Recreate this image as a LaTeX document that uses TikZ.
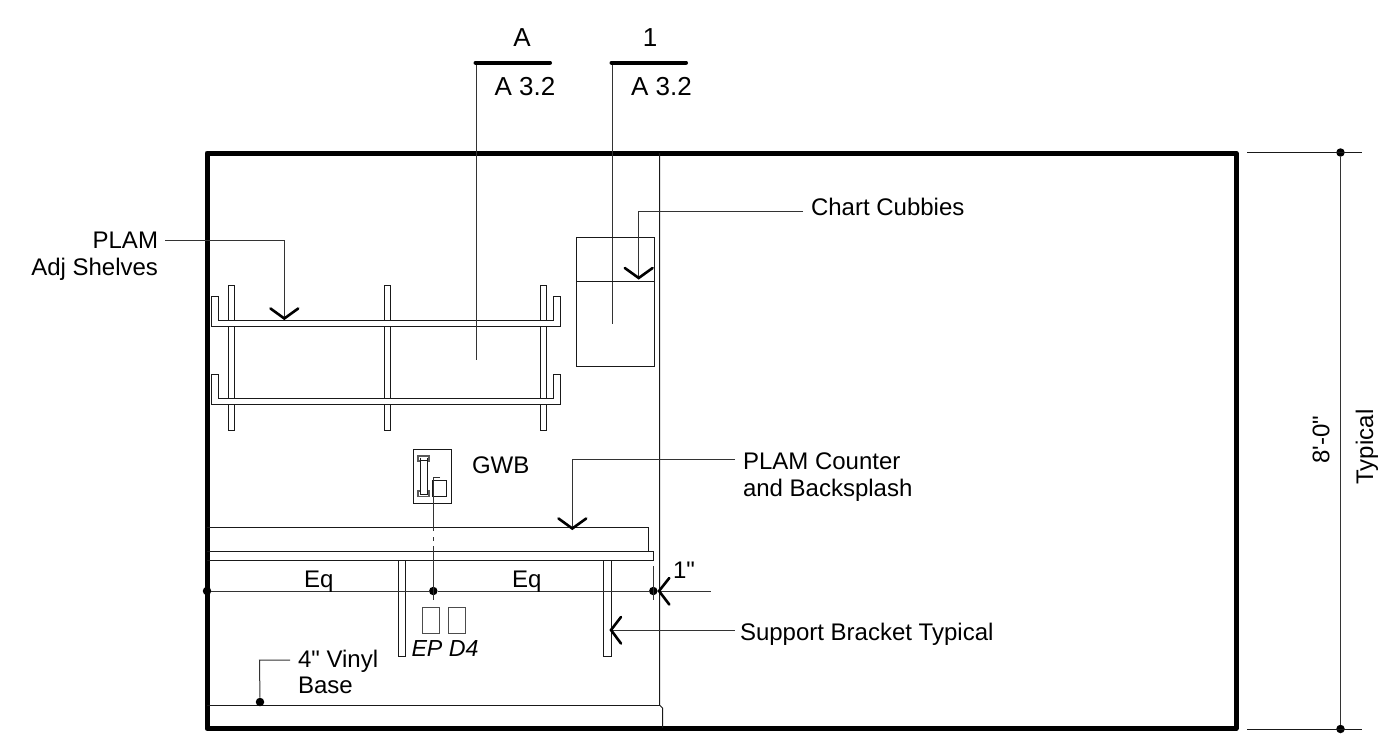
\documentclass[tikz,border=0pt]{standalone}
\usepackage{fontspec}
\setmainfont{Liberation Sans}[Ligatures=TeXOff]
\tikzset{
  thin line/.style={line width=1pt,black!90},
  leader/.style={line width=1pt,black!80},
  frame line/.style={line width=5pt,line join=round,line cap=round},
  tick/.style={line width=2.6pt,line cap=round,line join=miter},
  secbar/.style={line width=4pt,line cap=round},
  lbl/.style={inner sep=0pt,outer sep=0pt,anchor=base west,font=\fontsize{24}{26}\selectfont},
  lblr/.style={lbl,anchor=base east},
  sec/.style={inner sep=0pt,outer sep=0pt,anchor=base,font=\fontsize{26}{28}\selectfont},
  dimtext/.style={inner sep=0pt,outer sep=0pt,anchor=center,rotate=90,font=\fontsize{24}{26}\selectfont},
  pt/.style={circle,fill=black,inner sep=0pt,minimum size=8.5pt}
}
\begin{document}
\begin{tikzpicture}[x=1pt,y=-1pt]
\useasboundingbox (0,0) rectangle (1379,736);
% frame
\draw[frame line] (207,153) rectangle (1236,728.5);
% wall and base
\draw[thin line] (659.5,153) -- (659.5,705) -- (662.5,708) -- (662.5,728);
\draw[thin line] (207,705) -- (659.5,705);
% shelves
\foreach \xa in {228,384,540}{
  \draw[thin line] (\xa,320) -- (\xa,285.7) -- (\xa+6.7,285.7) -- (\xa+6.7,320);
  \draw[thin line] (\xa,326) -- (\xa,398.3) (\xa+6.7,326) -- (\xa+6.7,398.3);
  \draw[thin line] (\xa,404.3) -- (\xa,430.3) -- (\xa+6.7,430.3) -- (\xa+6.7,404.3);
}
\foreach \ya in {296,374}{
  \fill[white] (212.3,\ya+24) rectangle (559.4,\ya+29.7);
  \draw[thin line,line join=miter] (218.3,\ya) -- (211.7,\ya) -- (211.7,\ya+30.3) -- (560,\ya+30.3) -- (560,\ya) -- (553.3,\ya) -- (553.3,\ya+24.3) -- (218.3,\ya+24.3) -- cycle;
}
% section marks
\coordinate (secA) at (476.3,62.7);
\coordinate (secAend) at (476.3,360);
\coordinate (secB) at (612.7,62.7);
\coordinate (secBend) at (612.7,324);
\draw[leader] (secA) -- (secAend);
\draw[leader] (secB) -- (secBend);
\draw[secbar] (475.5,62.7) -- (550,62.7);
\draw[secbar] (611.5,62.7) -- (686,62.7);
\node[sec] (lblA) at (522,46) {A};
\node[sec] (lblOne) at (650,46) {1};
\node[sec] (lblAa) at (525,95) {A 3.2};
\node[sec] (lblAb) at (661.5,95) {A 3.2};
% cubbies
\draw[thin line] (576.7,237.7) rectangle (654.7,366.7);
\draw[thin line] (576.7,281.3) -- (654.7,281.3);
% PLAM shelves leader
\node[lblr] (plam) at (158,248) {PLAM};
\node[lblr] (adj) at (158,275) {Adj Shelves};
\coordinate (plamTip) at (284.3,318.5);
\draw[leader] (165,240) -| (plamTip);
\draw[tick] (270.5,308.5) -- (plamTip) -- (298.2,308.5);
% Chart cubbies leader
\node[lbl] (chart) at (811,215) {Chart Cubbies};
\coordinate (chartTip) at (638.7,278);
\draw[leader] (803,211.3) -| (chartTip);
\draw[tick] (624.8,268) -- (chartTip) -- (652.6,268);
% GWB
\node[lbl] (gwb) at (472,473) {GWB};
\draw[thin line] (413.3,449.3) rectangle (451,503.3);
\draw[thin line] (432.7,480) rectangle (446.7,496.7);
\draw[line width=1.3pt,black!65,line join=miter] (419.5,461) -- (418,461) -- (418,456) -- (429,456) -- (429,461) -- (427.5,461)
  (419.5,491) -- (418,491) -- (418,496.3) -- (429,496.3) -- (429,491) -- (427.5,491);
\draw[thin line] (420,457.5) -- (420,494.5) (427,457.5) -- (427,494.5);
\draw[thin line] (420,460) -- (427,460) (420,494.5) -- (427,494.5);
% Counter
\draw[thin line] (207,527.3) -- (648.3,527.3) -- (648.3,551.3);
\draw[thin line] (207,551.3) -- (653.7,551.3) -- (653.7,560.3) -- (207,560.3);
\node[lbl] (counter) at (743,469) {PLAM Counter};
\node[lbl] (backspl) at (743,496) {and Backsplash};
\coordinate (counterTip) at (572.3,528.5);
\draw[leader] (735,459) -| (counterTip);
\draw[tick] (558.5,518.5) -- (counterTip) -- (586.2,518.5);
% brackets
\draw[thin line] (398,560.3) -- (398,656.5) -- (405.7,656.5) -- (405.7,560.3);
\draw[thin line] (603.3,560.3) -- (603.3,656.5) -- (611,656.5) -- (611,560.3);
% dimension Eq
\node[pt] (dotL) at (207,591) {};
\node[pt] (dotM) at (433.3,591) {};
\node[pt] (dotR) at (653.3,591) {};
\coordinate (dimEnd) at (710.7,591);
\draw[leader] (dotL) -- (dotM) -- (dotR) -- (dimEnd);
\draw[leader] (653.3,566) -- (653.3,600);
\draw[tick] (669.3,578) -- (659,591) -- (669.3,604.5);
\node[lbl] (eqL) at (304,587) {Eq};
\node[lbl] (eqR) at (512,587) {Eq};
\node[lbl] (oneIn) at (673,578) {1"};
% GWB centre line
\draw[leader] (440,477.3) -- (433.3,477.3) -- (433.3,530.7);
\draw[leader] (433.3,537) -- (433.3,541);
\draw[leader] (433.3,546) -- (433.3,600);
% outlets
\draw[thin line,black!70] (422.3,607.7) rectangle (439,633.3);
\draw[thin line,black!70] (448.7,607.7) rectangle (465.7,633.3);
\node[lbl,font=\fontsize{23.2}{26}\selectfont\itshape] (ep) at (411.5,656.5) {EP D4};
% Support bracket leader
\node[lbl] (support) at (740,640) {Support Bracket Typical};
\coordinate (supTip) at (611,630);
\draw[leader] (supTip) -- (735,630);
\draw[tick] (621,617) -- (supTip) -- (621,643.5);
% Vinyl base
\node[lbl] (vinyl) at (298,667) {4" Vinyl};
\node[lbl] (base) at (298,693) {Base};
\node[pt] (dotB) at (260,702) {};
\draw[leader] (290,660) -- (259.5,660) -- (dotB);
% overall dimension
\node[pt] (dimT) at (1340.5,152.5) {};
\node[pt] (dimB) at (1340.5,729) {};
\draw[thin line] (1247.3,152.5) -- (1362,152.5);
\draw[thin line] (1247.3,729) -- (1362,729);
\draw[leader] (dimT) -- (dimB);
\node[dimtext] (eight) at (1321,440) {8'-0"};
\node[dimtext] (typ) at (1367,447) {Typical};
\end{tikzpicture}
\end{document}
